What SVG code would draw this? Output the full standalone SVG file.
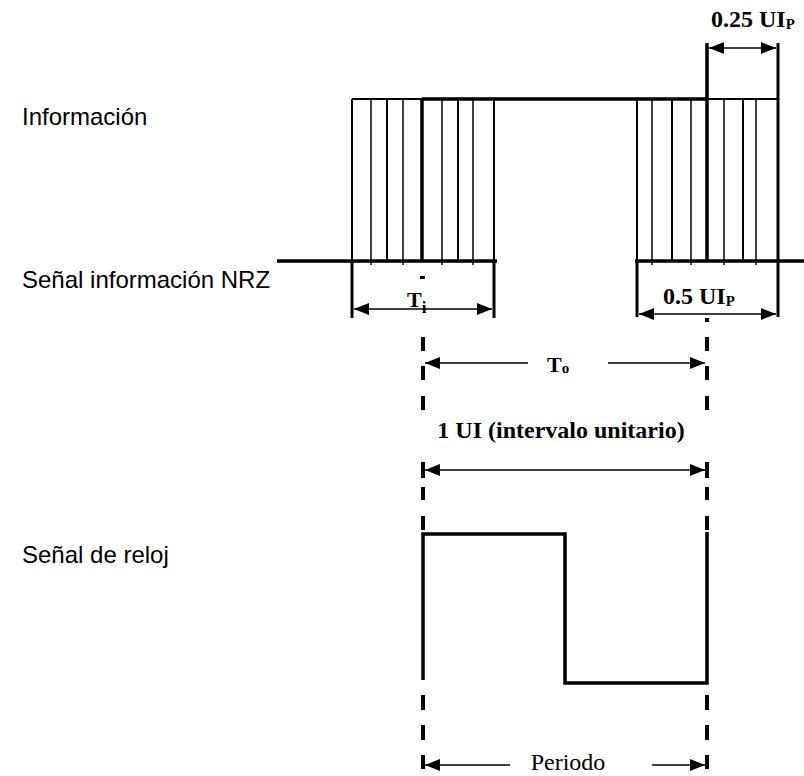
<svg xmlns="http://www.w3.org/2000/svg" width="804" height="776" viewBox="0 0 804 776">
<style>
.lbl{font-family:"Liberation Sans",Arial,sans-serif;font-size:24px;fill:#000}
.tb{font-family:"Liberation Serif","Times New Roman",serif;font-weight:bold;font-size:24px;fill:#000}
.tt{font-family:"Liberation Serif","Times New Roman",serif;font-weight:bold;font-size:22px;fill:#000}
.tr{font-family:"Liberation Serif","Times New Roman",serif;font-size:24px;fill:#000}
.sub{font-size:15px}
.thin{stroke:#000;stroke-width:1.5;fill:none}
.med{stroke:#000;stroke-width:2;fill:none}
.thick{stroke:#000;stroke-width:3.5;fill:none}
.edge{stroke:#000;stroke-width:3;fill:none}
.arr{stroke:#000;stroke-width:1.5;fill:none}
.d{fill:#000}
</style>
<defs>
<marker id="ah" viewBox="0 0 15 12" refX="15" refY="6" markerWidth="15" markerHeight="12" markerUnits="userSpaceOnUse" orient="auto-start-reverse">
<path d="M0,0 L15,6 L0,12 z" fill="#000"/>
</marker>
</defs>
<rect width="804" height="776" fill="#fff"/>

<g id="labels">
<text class="lbl" x="22" y="125">Información</text>
<text class="lbl" x="22" y="288">Señal información NRZ</text>
<text class="lbl" x="22" y="563">Señal de reloj</text>
</g>

<g id="nrz-signal">
<line class="thick" x1="277" y1="261" x2="497" y2="261"/>
<line class="thick" x1="635" y1="261" x2="804" y2="261"/>
<line class="med" x1="352" y1="99" x2="422" y2="99"/>
<line class="thick" x1="422" y1="99" x2="707" y2="99"/>
<line class="med" x1="707" y1="99" x2="778" y2="99"/>
<line class="thick" x1="422" y1="99" x2="422" y2="261"/>
<line class="thick" x1="707" y1="43" x2="707" y2="261"/>
</g>

<g id="left-block">
<line class="med" x1="352" y1="99" x2="352" y2="261"/>
<line class="edge" x1="352" y1="261" x2="352" y2="318"/>
<line class="med" x1="494" y1="99" x2="494" y2="261"/>
<line class="edge" x1="494" y1="261" x2="494" y2="318"/>
<line class="thin" x1="371" y1="100" x2="371" y2="265"/>
<line class="med" x1="387" y1="100" x2="387" y2="261"/>
<line class="thin" x1="403" y1="100" x2="403" y2="265"/>
<line class="thin" x1="442" y1="100" x2="442" y2="265"/>
<line class="med" x1="458" y1="100" x2="458" y2="261"/>
<line class="thin" x1="473" y1="100" x2="473" y2="265"/>
</g>

<g id="right-block">
<line class="med" x1="637" y1="99" x2="637" y2="261"/>
<line class="edge" x1="637" y1="261" x2="637" y2="317"/>
<line class="edge" x1="778" y1="43" x2="778" y2="317"/>
<line class="thin" x1="652" y1="100" x2="652" y2="265"/>
<line class="med" x1="672" y1="100" x2="672" y2="261"/>
<line class="thin" x1="691" y1="100" x2="691" y2="265"/>
<line class="thin" x1="724" y1="100" x2="724" y2="265"/>
<line class="med" x1="743" y1="100" x2="743" y2="261"/>
<line class="thin" x1="756" y1="100" x2="756" y2="265"/>
</g>

<g id="clock">
<path class="thick" d="M423,680 V534 H565 V683 H707 V532"/>
</g>

<g id="connectors">
<g id="dash-left">
<rect class="d" x="420" y="276" width="5" height="3"/>
<rect class="d" x="421" y="337" width="4" height="14"/>
<rect class="d" x="421" y="366" width="4" height="14"/>
<rect class="d" x="421" y="396" width="4" height="14"/>
<rect class="d" x="421" y="462" width="4" height="16"/>
<rect class="d" x="421" y="487" width="4" height="13"/>
<rect class="d" x="421" y="516" width="4" height="14"/>
<rect class="d" x="421" y="695" width="4" height="15"/>
<rect class="d" x="421" y="725" width="4" height="15"/>
<rect class="d" x="421" y="755" width="4" height="14"/>
</g>
<g id="dash-right">
<rect class="d" x="705" y="318" width="4" height="4"/>
<rect class="d" x="705" y="337" width="4" height="14"/>
<rect class="d" x="705" y="366" width="4" height="14"/>
<rect class="d" x="705" y="396" width="4" height="14"/>
<rect class="d" x="705" y="462" width="4" height="16"/>
<rect class="d" x="705" y="487" width="4" height="13"/>
<rect class="d" x="705" y="516" width="4" height="14"/>
<rect class="d" x="705" y="695" width="4" height="15"/>
<rect class="d" x="705" y="725" width="4" height="15"/>
<rect class="d" x="705" y="755" width="4" height="14"/>
</g>

<line class="arr" x1="354" y1="309" x2="492" y2="309" marker-start="url(#ah)" marker-end="url(#ah)"/>
<line class="arr" x1="639" y1="314" x2="776" y2="314" marker-start="url(#ah)" marker-end="url(#ah)"/>
<line class="arr" x1="709" y1="48" x2="776" y2="48" marker-start="url(#ah)" marker-end="url(#ah)"/>
<line class="arr" x1="425" y1="363" x2="528" y2="363" marker-start="url(#ah)"/>
<line class="arr" x1="608" y1="363" x2="705" y2="363" marker-end="url(#ah)"/>
<line class="arr" x1="425" y1="470" x2="705" y2="470" marker-start="url(#ah)" marker-end="url(#ah)"/>
<line class="arr" x1="425" y1="765" x2="510" y2="765" marker-start="url(#ah)"/>
<line class="arr" x1="652" y1="765" x2="705" y2="765" marker-end="url(#ah)"/>
</g>

<g id="dim-labels">
<text class="tt" x="407" y="307">T<tspan font-size="17" dy="6">i</tspan></text>
<text class="tb" x="663" y="304">0.5 UI<tspan class="sub" dy="2">P</tspan></text>
<text class="tb" x="711" y="27">0.25 UI<tspan class="sub" dy="2">P</tspan></text>
<text class="tt" x="547" y="372">T<tspan class="sub" dy="1">o</tspan></text>
<text class="tb" x="561" y="438" text-anchor="middle">1 UI (intervalo unitario)</text>
<text class="tr" x="568" y="770" text-anchor="middle">Periodo</text>
</g>
</svg>
